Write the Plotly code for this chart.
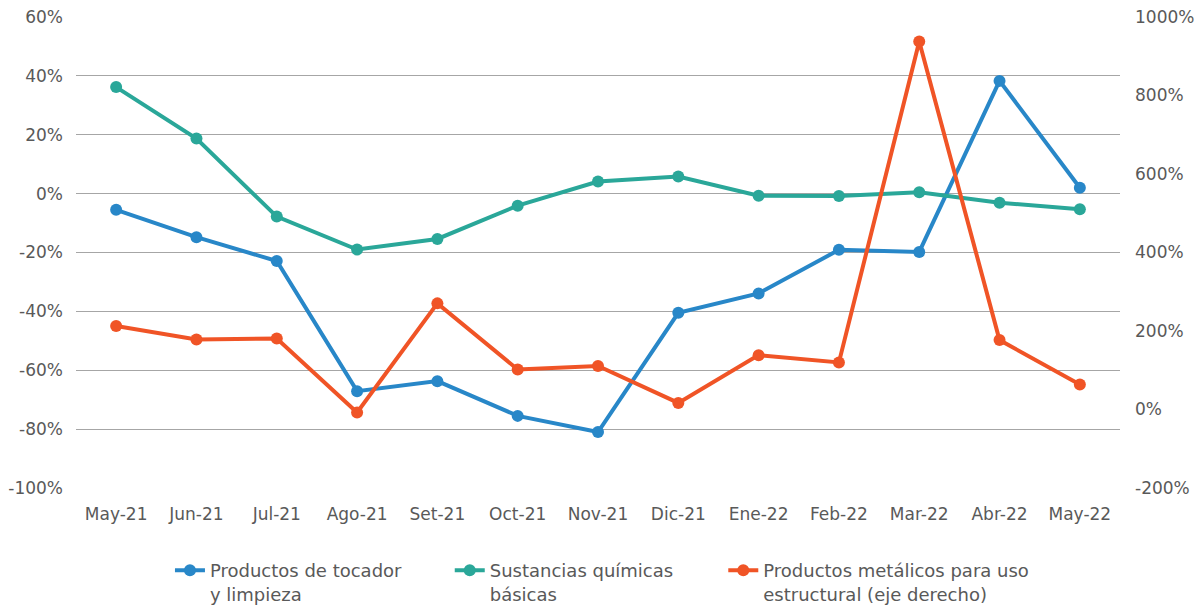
import plotly.graph_objects as go

# Month labels (Spanish)
months = ['May-21', 'Jun-21', 'Jul-21', 'Ago-21', 'Set-21', 'Oct-21', 'Nov-21',
          'Dic-21', 'Ene-22', 'Feb-22', 'Mar-22', 'Abr-22', 'May-22']

# Variacion % (eje izquierdo)
tocador = [-5.5, -14.8, -22.9, -67.1, -63.7, -75.5, -81.0, -40.5, -33.9, -19.1, -19.8, 38.3, 2.0]
quimicas = [36.2, 18.7, -7.8, -19.0, -15.4, -4.1, 4.1, 5.8, -0.7, -0.8, 0.5, -3.1, -5.3]

# Variacion % (eje derecho)
metalicos = [212.5, 178.6, 181.0, -7.7, 270.4, 102.0, 111.0, 16.8, 138.5, 120.0, 937.8, 176.8, 63.8]

left_ticks = [60, 40, 20, 0, -20, -40, -60, -80, -100]
right_ticks = [1000, 800, 600, 400, 200, 0, -200]

blue = '#2887c8'
teal = '#2aa799'
red = '#f05426'
text_color = '#595959'

fig = go.Figure()

fig.add_trace(go.Scatter(
    x=months, y=tocador, name='Productos de tocador<br>y limpieza',
    mode='lines+markers', line=dict(color=blue, width=4),
    marker=dict(size=12, color=blue), legend='legend',
))
fig.add_trace(go.Scatter(
    x=months, y=quimicas, name='Sustancias químicas<br>básicas',
    mode='lines+markers', line=dict(color=teal, width=4),
    marker=dict(size=12, color=teal), legend='legend2',
))
fig.add_trace(go.Scatter(
    x=months, y=metalicos, name='Productos metálicos para uso<br>estructural (eje derecho)',
    mode='lines+markers', line=dict(color=red, width=4),
    marker=dict(size=12, color=red), yaxis='y2', legend='legend3',
))

# one legend box per series, placed side by side under the plot
legend_style = dict(
    orientation='h',
    xanchor='left',
    y=-0.136,
    yanchor='top',
    valign='top',
    itemwidth=30,
    bgcolor='rgba(0,0,0,0)',
    font=dict(size=18, color=text_color),
)

fig.update_layout(
    width=1203,
    height=605,
    margin=dict(l=76, r=83, t=17, b=117, autoexpand=False),
    plot_bgcolor='white',
    paper_bgcolor='white',
    font=dict(family='DejaVu Sans, sans-serif', size=17, color=text_color),
    showlegend=True,
    xaxis=dict(
        type='category',
        range=[-0.5, 12.5],
        showgrid=False,
        showline=False,
        ticks='',
        ticklabelstandoff=14,
        automargin=False,
    ),
    yaxis=dict(
        range=[-100, 60],
        tickvals=left_ticks,
        ticktext=[f'{v}%' for v in left_ticks],
        showgrid=True,
        gridcolor='#a6a6a6',
        gridwidth=1,
        zeroline=False,
        showline=False,
        ticklabelstandoff=12,
        automargin=False,
    ),
    yaxis2=dict(
        range=[-200, 1000],
        tickvals=right_ticks,
        ticktext=[f'{v}%' for v in right_ticks],
        overlaying='y',
        side='right',
        showgrid=False,
        zeroline=False,
        showline=False,
        ticklabelstandoff=14,
        automargin=False,
    ),
    legend=dict(legend_style, x=0.090),
    legend2=dict(legend_style, x=0.358),
    legend3=dict(legend_style, x=0.620),
)

fig.write_html('out.html', config={'displayModeBar': False},
               post_script="document.body.style.margin='0';")
